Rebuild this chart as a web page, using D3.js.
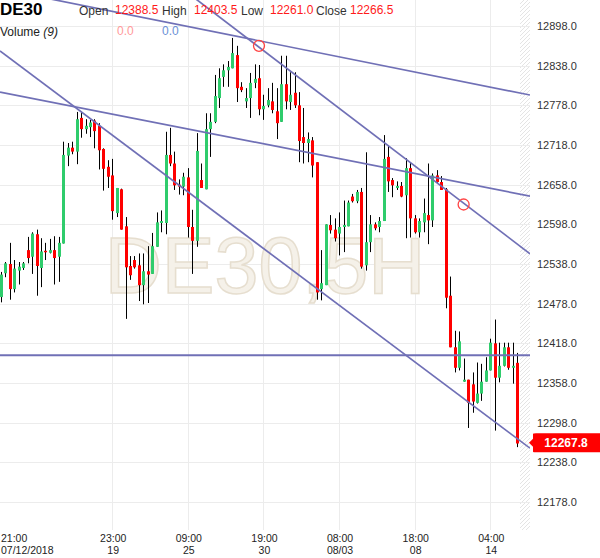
<!DOCTYPE html>
<html>
<head>
<meta charset="utf-8">
<script src="https://cdn.jsdelivr.net/npm/d3@7"></script>
<style>
body { margin: 0; background: #fff; }
text { font-family: Arial, "Liberation Sans", sans-serif; }
</style>
</head>
<body>
<div id="chart"></div>
<script>
// DE30, 5H candles
var open = [12488,12524,12538,12500,12528,12532,12559,12549,12583,12532,12558,12555,12559,12549,12569,12702,12714,12708,12759,12742,
  12745,12755,12747,12712,12685,12672,12615,12651,12595,12535,12544,12536,12506,12527,12523,12564,12600,12600,12703,12690,
  12658,12655,12669,12594,12573,12665,12651,12742,12753,12789,12821,12831,12834,12854,12806,12784,12789,12812,12819,12772,
  12778,12784,12769,12753,12810,12783,12797,12778,12730,12721,12725,12692,12500,12506,12597,12590,12584,12594,12595,12640,
  12633,12647,12536,12571,12598,12594,12603,12700,12665,12653,12656,12642,12683,12607,12586,12601,12612,12604,12672,12662,
  12651,12490,12412,12381,12360,12363,12356,12328,12342,12360,12377,12418,12366,12384,12412,12381,12388.5];
var high = [12526,12541,12570,12544,12541,12541,12579,12586,12590,12577,12570,12576,12580,12579,12723,12721,12723,12768,12768,12757,
  12756,12757,12751,12713,12695,12697,12653,12652,12609,12550,12550,12554,12554,12565,12585,12616,12619,12738,12744,12708,
  12666,12676,12683,12620,12736,12690,12766,12766,12824,12834,12840,12845,12880,12868,12813,12804,12827,12840,12839,12794,
  12804,12812,12804,12853,12853,12828,12828,12798,12774,12737,12730,12692,12559,12598,12612,12607,12616,12634,12634,12644,
  12650,12653,12707,12612,12601,12609,12733,12718,12668,12663,12662,12698,12692,12612,12607,12637,12690,12675,12680,12671,
  12653,12519,12437,12436,12395,12363,12374,12389,12387,12397,12425,12454,12419,12419,12419,12419,12403.5];
var low = [12480,12518,12484,12495,12507,12529,12539,12523,12490,12503,12544,12554,12507,12511,12569,12686,12704,12689,12729,12735,
  12730,12713,12681,12649,12653,12605,12609,12590,12455,12514,12531,12482,12477,12479,12523,12564,12586,12583,12686,12650,
  12643,12642,12578,12523,12564,12653,12651,12700,12751,12774,12806,12806,12834,12783,12798,12774,12759,12804,12763,12756,
  12775,12766,12727,12753,12772,12771,12774,12692,12690,12692,12669,12484,12483,12506,12584,12572,12551,12556,12595,12631,
  12630,12531,12528,12556,12589,12586,12603,12647,12639,12650,12639,12577,12578,12584,12578,12586,12568,12594,12660,12650,
  12471,12412,12374,12377,12360,12290,12313,12327,12331,12360,12377,12286,12359,12383,12378,12357,12261];
var close = [12522,12539,12500,12531,12534,12539,12547,12584,12535,12557,12556,12559,12547,12570,12703,12714,12708,12757,12742,12747,
  12752,12739,12710,12682,12670,12618,12653,12590,12533,12521,12533,12506,12527,12522,12565,12601,12603,12703,12690,12657,
  12655,12670,12594,12573,12709,12653,12742,12753,12792,12819,12831,12836,12857,12804,12801,12789,12812,12818,12772,12777,
  12786,12771,12751,12810,12784,12794,12778,12724,12721,12727,12687,12495,12509,12598,12589,12577,12594,12597,12631,12633,
  12647,12534,12571,12598,12592,12603,12697,12663,12657,12656,12640,12683,12607,12586,12603,12615,12604,12672,12662,12650,
  12487,12412,12381,12421,12363,12328,12330,12342,12360,12377,12419,12366,12384,12412,12381,12384,12266.5];

var yTicks = [12178,12238,12298,12358,12418,12478,12538,12598,12658,12718,12778,12838,12898];
var xTickIndex = [25,42,59,76,93,110];
var xTickTime = ["23:00","09:00","19:00","08:00","18:00","04:00"];
var xTickDate = ["19","25","30","08/03","08","14"];
var firstTime = "21:00", firstDate = "07/12/2018";

// trend lines: two anchor points each [candle index, price]
var trendLines = [
  [[11,12939],[119,12793.5]],
  [[58,12866],[104,12630]],
  [[-0.2,12798],[119,12640.5]],
  [[-0.2,12860],[119,12259]]
];
var hLinePrice = 12400;
var markers = [[58,12868],[104,12628]];
var lastPrice = 12267.8;

var W = 600, H = 558, plotR = 530, plotB = 530, futureX = 520;
var green = "#2fcc6c", red = "#ff0000", lineCol = "#7070b6";

var svg = d3.select("#chart").append("svg")
    .attr("width", W)
    .attr("height", H);

var x = d3.scaleLinear().domain([0, open.length - 1]).range([1, 517]);
var y = d3.scaleLinear().domain([12178, 12898]).range([502, 26]);

var defs = svg.append("defs");
defs.append("clipPath").attr("id", "clip")
  .append("rect").attr("width", plotR).attr("height", plotB);
var pat = defs.append("pattern").attr("id", "hatch")
    .attr("patternUnits", "userSpaceOnUse")
    .attr("width", 4).attr("height", 4);
pat.append("path").attr("d", "M0,4L4,0M-1,1L1,-1M3,5L5,3")
    .attr("stroke", "#e4e4e4").attr("stroke-width", 1);

// hatched future area
svg.append("rect")
    .attr("x", futureX).attr("y", 0)
    .attr("width", plotR - futureX).attr("height", plotB)
    .attr("fill", "url(#hatch)");

// grid
svg.append("g").selectAll("line")
  .data(yTicks)
  .enter().append("line")
    .attr("x1", 0).attr("x2", plotR)
    .attr("y1", function(d) { return Math.round(y(d)) + 0.5; })
    .attr("y2", function(d) { return Math.round(y(d)) + 0.5; })
    .attr("stroke", "#ececec");

svg.append("g").selectAll("line")
  .data(xTickIndex)
  .enter().append("line")
    .attr("x1", function(d) { return Math.round(x(d)) + 0.5; })
    .attr("x2", function(d) { return Math.round(x(d)) + 0.5; })
    .attr("y1", 0).attr("y2", plotB)
    .attr("stroke", "#ececec");

// watermark
svg.append("text")
    .attr("x", 265).attr("y", 293)
    .attr("text-anchor", "middle")
    .style("font-size", "79px")
    .attr("fill", "#f5f1e9")
    .attr("stroke", "#e6decf")
    .attr("stroke-width", 1.5)
    .text("DE30,5H");

// y axis labels
svg.append("g").selectAll("text")
  .data(yTicks)
  .enter().append("text")
    .attr("x", 537)
    .attr("y", function(d) { return y(d) + 4; })
    .style("font-size", "11px")
    .attr("fill", "#333")
    .text(function(d) { return d.toFixed(1); });

// x axis labels (time + date on two lines)
var xl = svg.append("g").attr("fill", "#222").style("font-size", "10.5px");
var xt = xl.selectAll("text")
  .data(xTickIndex)
  .enter().append("text")
    .attr("text-anchor", "middle")
    .attr("y", 541.5);
xt.append("tspan")
    .attr("x", function(d) { return x(d) + 1; })
    .text(function(d, i) { return xTickTime[i]; });
xt.append("tspan")
    .attr("x", function(d) { return x(d) + 1; })
    .attr("dy", 12)
    .text(function(d, i) { return xTickDate[i]; });
var ft = xl.append("text").attr("y", 541.5);
ft.append("tspan").attr("x", 1).text(firstTime);
ft.append("tspan").attr("x", 1).attr("dy", 12).text(firstDate);

var plot = svg.append("g").attr("clip-path", "url(#clip)");

// candles
var idx = d3.range(open.length);
var candle = plot.append("g").selectAll("g")
  .data(idx)
  .enter().append("g");

candle.append("line")
    .attr("x1", function(i) { return Math.round(x(i)) + 0.5; })
    .attr("x2", function(i) { return Math.round(x(i)) + 0.5; })
    .attr("y1", function(i) { return y(high[i]); })
    .attr("y2", function(i) { return y(low[i]); })
    .attr("stroke", "#000");

candle.append("rect")
    .attr("x", function(i) { return Math.round(x(i)) - 1; })
    .attr("width", 3)
    .attr("y", function(i) { return y(Math.max(open[i], close[i])); })
    .attr("height", function(i) { return Math.max(1.5, Math.abs(y(open[i]) - y(close[i]))); })
    .attr("fill", function(i) { return close[i] >= open[i] ? green : red; });

// trend lines, extended across the plot
trendLines.forEach(function(t) {
  var x1 = x(t[0][0]), y1 = y(t[0][1]), x2 = x(t[1][0]), y2 = y(t[1][1]);
  var k = (y2 - y1) / (x2 - x1);
  plot.append("line")
      .attr("x1", 0).attr("y1", y1 - k * x1)
      .attr("x2", plotR).attr("y2", y1 + k * (plotR - x1))
      .attr("stroke", lineCol).attr("stroke-width", 1.7);
});
plot.append("line")
    .attr("x1", 0).attr("x2", plotR)
    .attr("y1", y(hLinePrice)).attr("y2", y(hLinePrice))
    .attr("stroke", lineCol).attr("stroke-width", 1.8);

plot.selectAll("circle")
  .data(markers)
  .enter().append("circle")
    .attr("cx", function(d) { return x(d[0]); })
    .attr("cy", function(d) { return y(d[1]); })
    .attr("r", 5.5)
    .attr("fill", "none")
    .attr("stroke", "#ff4444")
    .attr("stroke-width", 1.3);

// last price tag
var ly = y(lastPrice);
svg.append("path")
    .attr("d", "M529," + ly + "L533," + (ly - 4) + "L533," + (ly - 9) + "Q533," + (ly - 9.5) + " 536," + (ly - 9.5) +
      "L600," + (ly - 9.5) + "L600," + (ly + 9.5) + "L536," + (ly + 9.5) + "Q533," + (ly + 9.5) + " 533," + (ly + 9) +
      "L533," + (ly + 4) + "Z")
    .attr("fill", "#ff0000");
svg.append("text")
    .attr("x", 566).attr("y", ly + 4.5)
    .attr("text-anchor", "middle")
    .attr("fill", "#fff")
    .style("font-size", "12px").style("font-weight", "bold")
    .text(lastPrice.toFixed(1));

// header
var n = open.length - 1;
var hd = svg.append("g");
hd.append("text").attr("x", 0).attr("y", 15)
    .style("font-size", "17px").style("font-weight", "bold").attr("fill", "#000").text("DE30");
var hdLabels = ["Open", "High", "Low", "Close"],
    hdLabelX = [79, 162, 241, 316],
    hdValues = [open[n], high[n], low[n], close[n]],
    hdValueX = [115, 194, 270, 350];
hdLabels.forEach(function(s, i) {
  hd.append("text").attr("x", hdLabelX[i]).attr("y", 15)
      .style("font-size", "12px").attr("fill", "#333").text(s);
  hd.append("text").attr("x", hdValueX[i]).attr("y", 13.5)
      .style("font-size", "12px").attr("fill", "#ff1a1a").text(hdValues[i].toFixed(1));
});
var vol = hd.append("text").attr("x", 0).attr("y", 35.5)
    .style("font-size", "12px").attr("fill", "#222");
vol.append("tspan").text("Volume ");
vol.append("tspan").style("font-style", "italic").text("(9)");
hd.append("text").attr("x", 117).attr("y", 34.5)
    .style("font-size", "12px").attr("fill", "#ff9a9a").text("0.0");
hd.append("text").attr("x", 162).attr("y", 34.5)
    .style("font-size", "12px").attr("fill", "#6a8fd6").text("0.0");
</script>
</body>
</html>
